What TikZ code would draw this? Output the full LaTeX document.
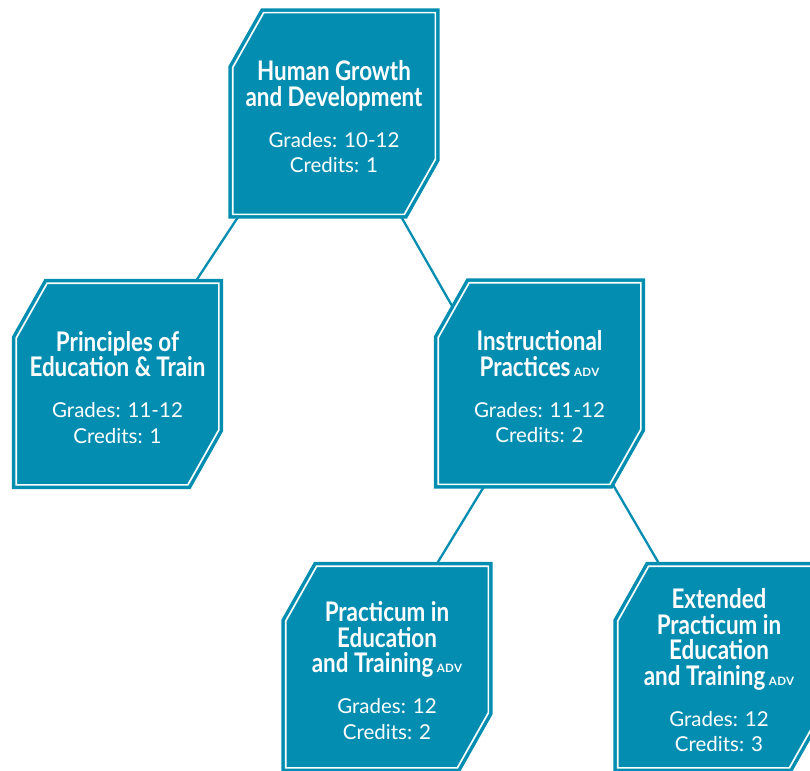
\documentclass[tikz,border=0pt]{standalone}
\usepackage{fontspec}
\setmainfont{Lato}
\newfontfamily\titlefam{Lato}[FakeStretch=0.83]
\newfontfamily\advfam{Lato}[LetterSpace=4]
\usetikzlibrary{backgrounds,calc}
\definecolor{teal1}{RGB}{3,141,176}
\newcommand\ttl{\titlefam\bfseries\fontsize{27}{25.5}\selectfont}
\newcommand\ttlfirst{\ttl\rule{0pt}{27pt}}
\newcommand\bdy{\normalfont\fontsize{20.5}{25.5}\selectfont}
\newcommand\adv{{\hspace{3.5pt}\advfam\fontsize{11.5}{10}\selectfont ADV}}
\begin{document}
\begin{tikzpicture}[x=1pt,y=-1pt,
  course/.style={minimum width=202.3pt, minimum height=201.3pt, inner sep=0pt,
    text=white, align=center, font=\fontsize{20.5}{25.5}\selectfont},
  link/.style={draw=teal1, line width=2.3pt},
  shapeout/.style={draw=teal1, fill=teal1, line width=8.7pt, line join=miter},
  shapein/.style={draw=white, line width=1.7pt, line join=miter}]
\useasboundingbox (0,0) rectangle (810,770);
\clip (0,0) rectangle (810,770);

\node[course] (hgd) at (334,113.5) {\ttlfirst Human Growth\\\ttl and Development\\[15.5pt]\bdy Grades: 10-12\\\bdy Credits: 1};
\node[course] (pet) at (117.5,384) {\ttlfirst Principles of\\\ttl Education \& Train\\[15.5pt]\bdy Grades: 11-12\\\bdy Credits: 1};
\node[course] (ip) at (539.5,383.5) {\ttlfirst Instructional\\\ttl Practices\adv\\[15.5pt]\bdy Grades: 11-12\\\bdy Credits: 2};
\node[course] (pit) at (387,667) {\ttlfirst Practicum in\\\ttl Education\\\ttl and Training\adv\\[15.5pt]\bdy Grades: 12\\\bdy Credits: 2};
\node[course] (ept) at (719,667) {\ttlfirst Extended\\\ttl Practicum in\\\ttl Education\\\ttl and Training\adv\\[15.5pt]\bdy Grades: 12\\\bdy Credits: 3};

\begin{pgfonlayer}{background}
\draw[link] ([xshift=-94.2pt]hgd.south) -- ([xshift=77pt]pet.north);
\draw[link] ([xshift=65.8pt]hgd.south) -- ($(ip.north west)+(20.65,35.15)$);
\draw[link] ([xshift=-54.2pt]ip.south) -- ([xshift=48.4pt]pit.north);
\draw[link] ([xshift=73.3pt]ip.south) -- ([xshift=-58.5pt]ept.north);
\foreach \n in {hgd,pet,ip,pit,ept}{
  \foreach \s in {shapeout,shapein}{
    \path[\s] ($(\n.north west)+(0,55)$) -- ($(\n.north west)+(31,0)$) -- (\n.north east)
      -- ($(\n.south east)+(0,-55)$) -- ($(\n.south east)+(-31,0)$) -- (\n.south west) -- cycle;
  }
}
\end{pgfonlayer}
\end{tikzpicture}
\end{document}
